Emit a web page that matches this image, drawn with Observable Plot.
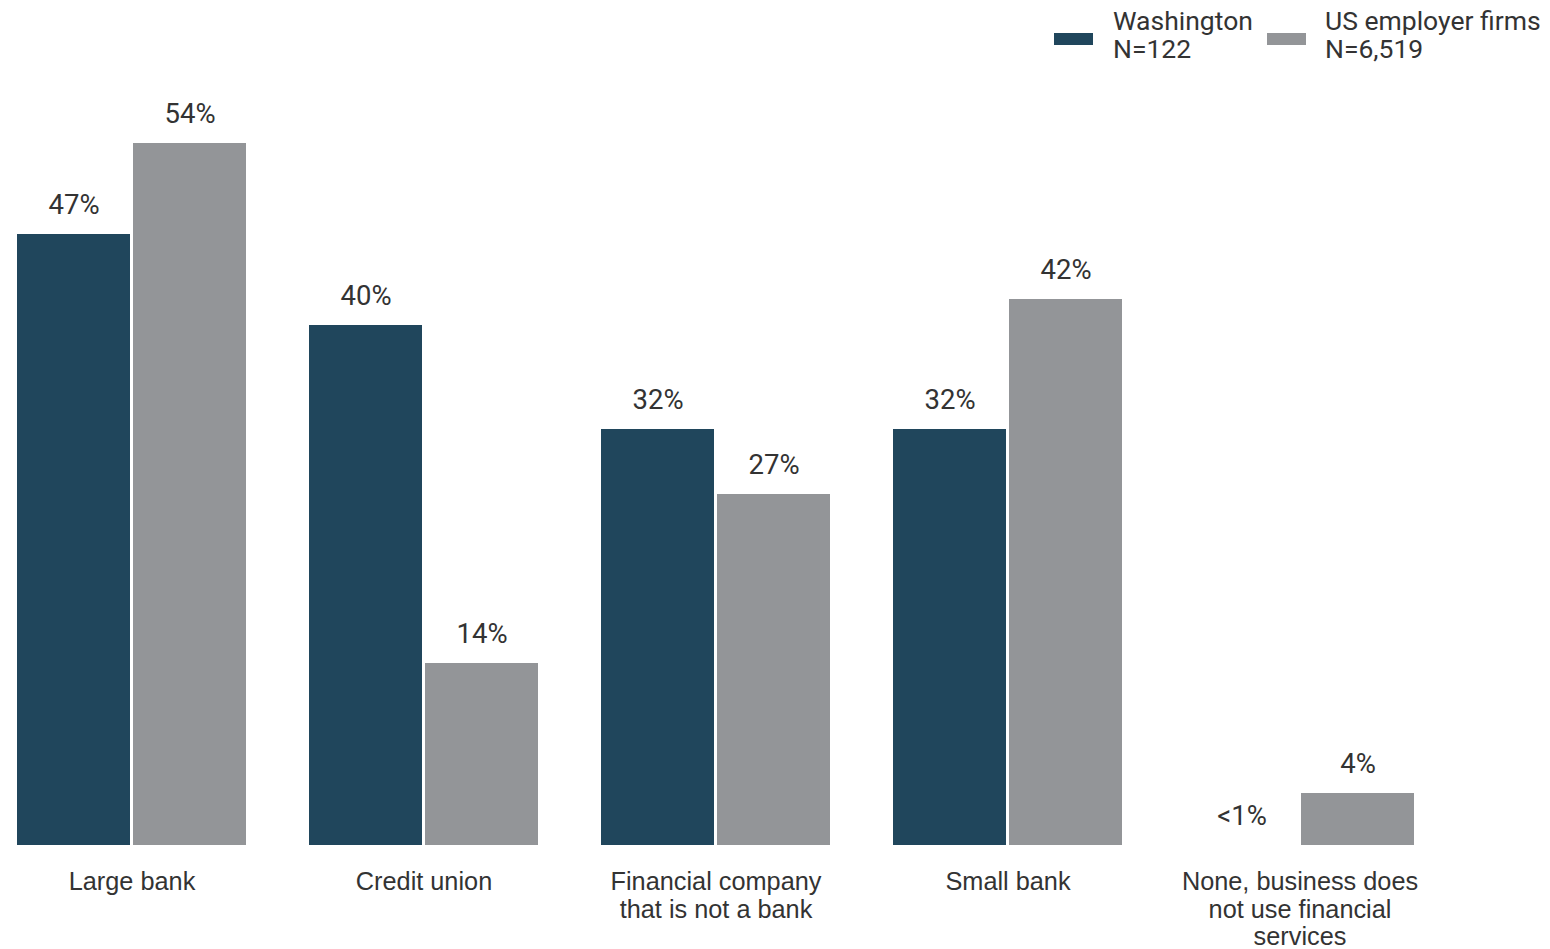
<!DOCTYPE html>
<html>
<head>
<meta charset="utf-8">
<script src="https://cdn.jsdelivr.net/npm/d3@7"></script>
<script src="https://cdn.jsdelivr.net/npm/@observablehq/plot@0.6"></script>
<style>
  html, body { margin: 0; padding: 0; background: #fff; }
  #wrap { position: relative; width: 1550px; height: 949px; }
  .leg { position: absolute; top: 7px; font-family: Roboto, sans-serif; font-size: 26.5px; line-height: 28px; color: #333; white-space: nowrap; }
  .sw { position: absolute; width: 39px; height: 12px; }
</style>
</head>
<body>
<div id="wrap">
  <div id="chart"></div>
</div>
<script>
const categories = ["Large bank", "Credit union", "Financial company that is not a bank", "Small bank", "None, business does not use financial services"];
const categoryLabels = ["Large bank", "Credit union", "Financial company\nthat is not a bank", "Small bank", "None, business does\nnot use financial\nservices"];
const series = ["Washington", "US employer firms"];
const seriesN = ["N=122", "N=6,519"];
const seriesColors = ["#20465c", "#939598"];
const washington = [47, 40, 32, 32, 0];
const usFirms = [54, 14, 27, 42, 4];
const washingtonLabels = ["47%", "40%", "32%", "32%", "<1%"];
const usFirmsLabels = ["54%", "14%", "27%", "42%", "4%"];

const rows = [];
categories.forEach((c, i) => {
  rows.push({category: c, series: series[0], value: washington[i], label: washingtonLabels[i]});
  rows.push({category: c, series: series[1], value: usFirms[i], label: usFirmsLabels[i]});
});
const labelOf = new Map(categories.map((c, i) => [c, categoryLabels[i]]));

const chart = Plot.plot({
  width: 1550,
  height: 949,
  marginTop: 65,
  marginBottom: 104,
  marginLeft: 15.5,
  marginRight: 133.5,
  style: {background: "#fff", color: "#333"},
  fx: {domain: categories, paddingInner: 59 / 292, paddingOuter: 0, label: null},
  x: {domain: series, padding: 0, axis: null},
  y: {domain: [0, 60], axis: null},
  color: {domain: series, range: seriesColors},
  marks: [
    Plot.barY(rows, {fx: "category", x: "series", y: "value", fill: "series", insetLeft: 1.5, insetRight: 1.5}),
    Plot.text(rows, {fx: "category", x: "series", y: "value", text: "label", dy: -29.5, fontSize: 27.5, fontFamily: "Roboto, sans-serif", fill: "#333"}),
    Plot.axisFx({anchor: "bottom", tickSize: 0, tickPadding: 25, fontSize: 25.3, lineHeight: 1.09, label: null, fill: "#333", fontFamily: "Liberation Sans, Arial, sans-serif", tickFormat: d => labelOf.get(d)})
  ]
});
document.getElementById("chart").appendChild(chart);

const wrap = document.getElementById("wrap");
const legendPos = [{sw: 1054, tx: 1113}, {sw: 1267, tx: 1325}];
series.forEach((s, i) => {
  const sw = document.createElement("div");
  sw.className = "sw";
  sw.style.left = legendPos[i].sw + "px";
  sw.style.top = "33px";
  sw.style.background = seriesColors[i];
  wrap.appendChild(sw);
  const t = document.createElement("div");
  t.className = "leg";
  t.style.left = legendPos[i].tx + "px";
  t.innerHTML = s + "<br>" + seriesN[i];
  wrap.appendChild(t);
});
</script>
</body>
</html>
